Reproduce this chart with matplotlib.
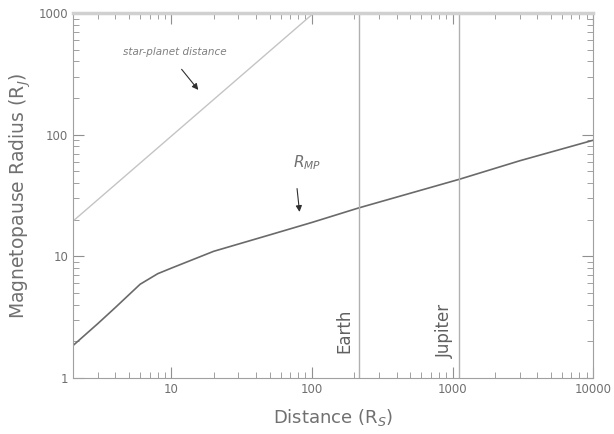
import numpy as np
import matplotlib.pyplot as plt

# Distances in solar radii, radii in Jupiter radii
dist_rmp = [2, 3, 4, 6, 8, 10, 20, 50, 100, 215, 500, 1118, 3000, 10000]
r_mp = [1.85, 2.8, 3.8, 5.9, 7.2, 8.0, 11.0, 15.0, 19.0, 25.0, 33.0, 43.0, 61.0, 90.0]

dist_star = [2, 103]
r_star = [19.5, 1000]

earth_x = 215
jupiter_x = 1118

fig = plt.figure(figsize=(6.14, 4.34), dpi=100)
ax = fig.add_axes([0.119, 0.129, 0.847, 0.841])

ax.plot(dist_star, r_star, color="#c4c4c4", lw=1.0)
ax.plot(dist_rmp, r_mp, color="#6a6a6a", lw=1.2)
ax.axvline(earth_x, color="#b0b0b0", lw=1.0)
ax.axvline(jupiter_x, color="#b0b0b0", lw=1.0)

ax.set_xscale("log")
ax.set_yscale("log")
ax.set_xlim(2, 10000)
ax.set_ylim(1, 1000)

ax.set_xticks([10, 100, 1000, 10000])
ax.set_xticklabels(["10", "100", "1000", "10000"])
ax.set_yticks([1, 10, 100, 1000])
ax.set_yticklabels(["1", "10", "100", "1000"])

ax.tick_params(which="both", direction="in", top=True, right=True,
               colors="#909090", labelcolor="#707070", labelsize=8.5)
ax.tick_params(which="major", length=8)
ax.tick_params(which="minor", length=4)
for side in ["left", "bottom", "right"]:
    ax.spines[side].set_color("#a0a0a0")
ax.spines["top"].set_color("#d0d0d0")
ax.spines["top"].set_linewidth(2.5)

ax.set_xlabel("Distance (R$_S$)", fontsize=13, color="#707070", labelpad=8)
ax.set_ylabel("Magnetopause Radius (R$_J$)", fontsize=13.5, color="#707070", labelpad=4)

# labels for the two curves
ax.text(0.196, 0.893, "star-planet distance", transform=ax.transAxes, fontsize=7.5,
        style="italic", color="#808080", ha="center", va="center")
ax.annotate("", xy=(16, 224), xytext=(11.5, 359),
            arrowprops=dict(arrowstyle="-|>", color="#303030", lw=0.8,
                            mutation_scale=9))
ax.text(0.45, 0.589, "$R_{MP}$", transform=ax.transAxes, fontsize=11,
        color="#707070", ha="center", va="center")
ax.annotate("", xy=(82, 22), xytext=(78, 38),
            arrowprops=dict(arrowstyle="-|>", color="#303030", lw=0.8,
                            mutation_scale=9))

# planet labels next to the vertical lines
ax.text(earth_x * 0.91, 2.45, "Earth", rotation=90, fontsize=12,
        color="#606060", ha="right", va="center")
ax.text(jupiter_x * 0.91, 2.45, "Jupiter", rotation=90, fontsize=12,
        color="#606060", ha="right", va="center")

fig.savefig("out.png", dpi=100)
